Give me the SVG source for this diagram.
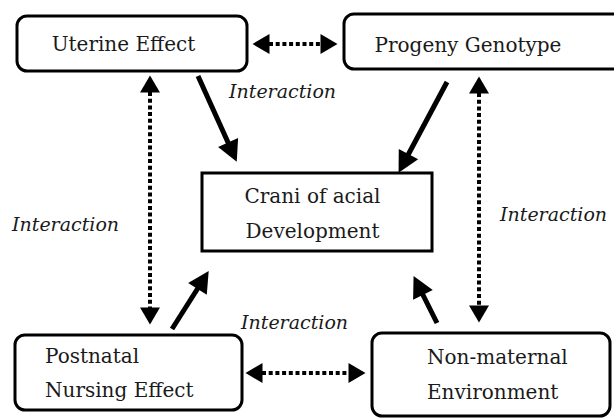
<svg xmlns="http://www.w3.org/2000/svg" width="614" height="418" viewBox="0 0 614 418">
<style>
.box{fill:#fff;stroke:#000;stroke-width:3}
.t{font-family:"DejaVu Serif","Liberation Serif",serif;font-size:20px;fill:#1a1a1a}
.it{font-family:"DejaVu Serif","Liberation Serif",serif;font-size:19px;font-style:italic;fill:#1a1a1a}
.solid{stroke:#000;stroke-width:5;fill:none}
.dot{stroke:#000;stroke-width:4;fill:none;stroke-dasharray:4 2.7}
</style>
<defs>
<marker id="sh" markerUnits="userSpaceOnUse" markerWidth="22" markerHeight="22" refX="1" refY="11" orient="auto" viewBox="0 0 22 22" overflow="visible">
<path d="M0,0 L21,11 L0,22 Z" fill="#000"/>
</marker>
<marker id="dh" markerUnits="userSpaceOnUse" markerWidth="18" markerHeight="20" refX="0.5" refY="10" orient="auto-start-reverse" viewBox="0 0 18 20" overflow="visible">
<path d="M0,0 L17,10 L0,20 Z" fill="#000"/>
</marker>
</defs>
<g id="connectors">
<line class="dot" x1="269" y1="44" x2="321" y2="44" marker-start="url(#dh)" marker-end="url(#dh)"/>
<line class="dot" x1="262" y1="373" x2="349" y2="373" marker-start="url(#dh)" marker-end="url(#dh)"/>
<line class="dot" x1="150" y1="92" x2="150" y2="308" marker-start="url(#dh)" marker-end="url(#dh)"/>
<line class="dot" x1="479" y1="93" x2="479" y2="306" marker-start="url(#dh)" marker-end="url(#dh)"/>
<line class="solid" x1="198" y1="76" x2="228.5" y2="143.5" marker-end="url(#sh)"/>
<line class="solid" x1="447" y1="82" x2="408" y2="155" marker-end="url(#sh)"/>
<line class="solid" x1="172" y1="329" x2="198" y2="288" marker-end="url(#sh)"/>
<line class="solid" x1="437" y1="323" x2="422.5" y2="294" marker-end="url(#sh)"/>
<text class="it" x="229" y="98">Interaction</text>
<text class="it" x="12" y="231">Interaction</text>
<text class="it" x="500" y="221">Interaction</text>
<text class="it" x="241" y="329">Interaction</text>
</g>
<g id="uterine">
<rect class="box" x="17" y="16" width="230" height="55" rx="10"/>
<text class="t" x="123.5" y="51" text-anchor="middle">Uterine Effect</text>
</g>
<g id="progeny">
<rect class="box" x="344" y="14" width="280" height="55" rx="10"/>
<text class="t" x="468" y="52" text-anchor="middle">Progeny Genotype</text>
</g>
<g id="crani">
<rect class="box" x="202" y="173" width="230" height="78"/>
<text class="t" x="312.5" y="203" text-anchor="middle">Crani of acial</text>
<text class="t" x="312.5" y="238" text-anchor="middle">Development</text>
</g>
<g id="postnatal">
<rect class="box" x="15" y="335" width="227" height="75" rx="10"/>
<text class="t" x="45" y="363">Postnatal</text>
<text class="t" x="45" y="397">Nursing Effect</text>
</g>
<g id="nonmaternal">
<rect class="box" x="372" y="333" width="238" height="83" rx="10"/>
<text class="t" x="427" y="364">Non-maternal</text>
<text class="t" x="427" y="399">Environment</text>
</g>
</svg>
